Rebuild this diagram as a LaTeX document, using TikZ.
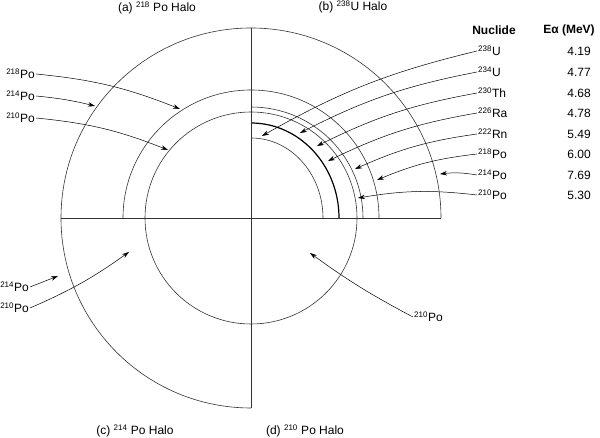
\documentclass[tikz,border=0pt]{standalone}
\usepackage{fontspec}
\setmainfont{Liberation Sans}
\usetikzlibrary{arrows.meta}
\newcommand{\iso}[2]{\textsuperscript{\fontsize{8}{9}\selectfont #1}#2}
\begin{document}
\begin{tikzpicture}[x=1pt,y=1pt,
  ln/.style={line width=0.6pt,black!80},
  arr/.style={line width=0.5pt,-{Stealth[length=7pt,width=4.5pt]}},
  lab/.style={font=\fontsize{12}{14}\selectfont,inner sep=1pt},
  ttl/.style={font=\fontsize{12}{14}\selectfont}]
\useasboundingbox (0,0) rectangle (600,438);
\coordinate (C) at (251,220);
% circles
\draw[ln] (441,220) arc[start angle=0,end angle=270,radius=190];
\draw[ln] (379,220) arc[start angle=0,end angle=180,radius=128];
\draw[ln] (C) circle[radius=106];
\draw[ln] (363,220) arc[start angle=0,end angle=90,x radius=112,y radius=111];
\draw[line width=1.2pt] (339,220) arc[start angle=0,end angle=90,x radius=88,y radius=95];
\draw[ln] (323,220) arc[start angle=0,end angle=90,x radius=72,y radius=80];
\draw[ln] (61,220) -- (441,220);
\draw[ln] (251,410) -- (251,30);
% titles
\node[ttl] (ta) at (157,430) {(a) \iso{218}{} Po Halo};
\node[ttl] (tb) at (353,431) {(b) \iso{238}{U} Halo};
\node[ttl] (tc) at (135,7) {(c) \iso{214}{} Po Halo};
\node[ttl] (td) at (305,7) {(d) \iso{210}{} Po Halo};
% table
\node[lab,font=\bfseries\fontsize{12}{14}\selectfont] (hn) at (494,408) {Nuclide};
\node[lab,font=\bfseries\fontsize{12}{14}\selectfont] (he) at (569,408) {Eα (MeV)};
\foreach \n/\nm/\v/\yy/\ex/\ey in {1/\iso{238}{U}/4.19/387/262/302, 2/\iso{234}{U}/4.77/366/300/305, 3/\iso{230}{Th}/4.68/345/317/292, 4/\iso{226}{Ra}/4.78/325/328/277, 5/\iso{222}{Rn}/5.49/304/355/269, 6/\iso{218}{Po}/6.00/284/377/258, 7/\iso{214}{Po}/7.69/263/440/264, 8/\iso{210}{Po}/5.30/243/358/240}{
  \node[lab,anchor=west] (r\n) at (477,\yy) {\nm};
  \node[lab] (v\n) at (579,\yy) {\v};
  \coordinate (e\n) at (\ex,\ey);
  \draw[arr] (r\n.west) to[bend right=8] (e\n);
}
% left labels
\node[lab,anchor=east] (l1) at (36,364) {\iso{218}{Po}};
\node[lab,anchor=east] (l2) at (36,342) {\iso{214}{Po}};
\node[lab,anchor=east] (l3) at (36,320) {\iso{210}{Po}};
\coordinate (a1) at (180,329);
\coordinate (a2) at (95,332);
\coordinate (a3) at (168,288);
\draw[arr] (l1.east) to[bend left=8] (a1);
\draw[arr] (l2.east) to[bend left=4] (a2);
\draw[arr] (l3.east) to[bend left=8] (a3);
\node[lab,anchor=east] (l4) at (30,151) {\iso{214}{Po}};
\node[lab,anchor=east] (l5) at (30,130) {\iso{210}{Po}};
\coordinate (a4) at (58,162);
\coordinate (a5) at (129,186);
\draw[arr] (l4.east) -- (a4);
\draw[arr] (l5.east) to[bend right=6] (a5);
\node[lab,anchor=west] (l6) at (413,121) {\iso{210}{Po}};
\coordinate (a6) at (310,185);
\draw[arr] (l6.west) to[bend left=4] (a6);
\end{tikzpicture}
\end{document}
